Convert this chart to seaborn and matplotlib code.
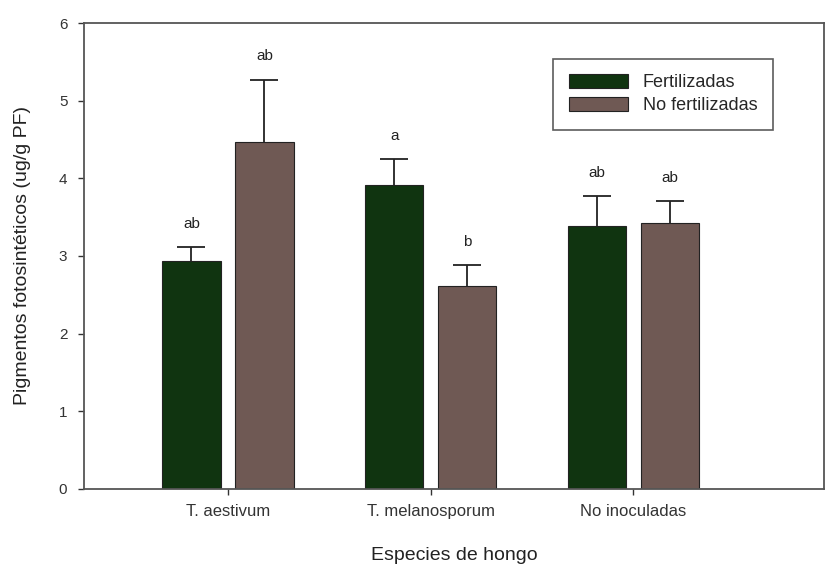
import matplotlib
matplotlib.use("Agg")
import matplotlib.pyplot as plt
import seaborn as sns
import pandas as pd
import numpy as np

categories = ["T. aestivum", "T. melanosporum", "No inoculadas"]
series = ["Fertilizadas", "No fertilizadas"]
fert_values = [2.94, 3.92, 3.38]
nofert_values = [4.47, 2.62, 3.43]
fert_err = [0.17, 0.33, 0.39]
nofert_err = [0.80, 0.26, 0.28]
fert_letters = ["ab", "a", "ab"]
nofert_letters = ["ab", "b", "ab"]

colors = ["#0a3a0a", "#735650"]

df = pd.DataFrame({
    "Especie": categories * 2,
    "Tratamiento": [series[0]] * 3 + [series[1]] * 3,
    "Valor": fert_values + nofert_values,
})

sns.set_style("white")
plt.rcParams["font.family"] = ["Liberation Sans", "DejaVu Sans"]

fig = plt.figure(figsize=(8.27, 5.68), dpi=100)
ax = fig.add_axes([0.1016, 0.1391, 0.8948, 0.8204])

sns.barplot(data=df, x="Especie", y="Valor", hue="Tratamiento",
            order=categories, hue_order=series, palette=colors,
            width=0.72, gap=0.2, errorbar=None, edgecolor="#222222",
            linewidth=0.8, ax=ax)

for i, (vals, errs, lets) in enumerate([(fert_values, fert_err, fert_letters),
                                        (nofert_values, nofert_err, nofert_letters)]):
    cont = ax.containers[i]
    xs = [b.get_x() + b.get_width() / 2 for b in cont]
    tops = [v + e for v, e in zip(vals, errs)]
    ax.errorbar(xs, vals, yerr=[np.zeros(len(vals)), errs], fmt="none",
                ecolor="#222222", elinewidth=1.3, capsize=0, zorder=3)
    ax.plot(xs, tops, linestyle="none", marker="_", markersize=20,
            markeredgewidth=1.3, color="#222222", zorder=3)
    for x, t, l in zip(xs, tops, lets):
        ax.text(x, t + 0.3, l, ha="center", va="center", fontsize=11, color="#222222")

ax.set_ylim(0, 6)
ax.set_xlim(-0.71, 2.94)
ax.set_yticks([0, 1, 2, 3, 4, 5, 6])
ax.tick_params(axis="both", direction="out", length=4, width=1, colors="#333333",
               left=True, bottom=True, right=False, top=False)
ax.tick_params(axis="x", labelsize=12, pad=7)
ax.tick_params(axis="y", labelsize=11, pad=8)
for sp in ax.spines.values():
    sp.set_visible(True)
    sp.set_color("#555555")
    sp.set_linewidth(1.3)

ax.set_xlabel("Especies de hongo", fontsize=14, labelpad=20, color="#222222")
ax.set_ylabel("Pigmentos fotosintéticos (ug/g PF)", fontsize=14, labelpad=20, color="#222222")

leg = ax.legend(loc="upper right", bbox_to_anchor=(0.943, 0.943), frameon=True,
                fancybox=False, edgecolor="#333333", fontsize=13,
                handlelength=3.3, handleheight=0.85, borderpad=0.85, labelspacing=0.3,
                title=None)
leg.get_frame().set_linewidth(1.2)

fig.savefig("out.png", dpi=100)
